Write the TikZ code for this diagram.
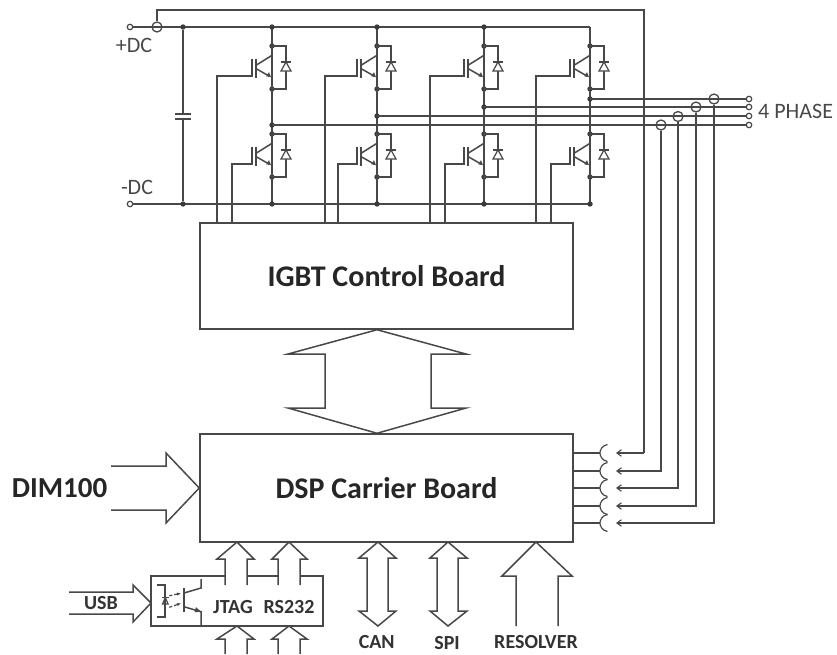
\documentclass[tikz,border=0pt]{standalone}
\usepackage{fontspec}
\setmainfont{Carlito}
\usetikzlibrary{arrows.meta}
\definecolor{ink}{HTML}{484848}
\tikzset{
  wire/.style={draw=ink,line width=1.5pt,line cap=butt,line join=miter},
  thin wire/.style={draw=ink,line width=1.2pt},
  outline/.style={draw=ink,line width=1.5pt,line join=miter},
  board/.style={draw=ink,line width=1.5pt,inner sep=0pt,minimum width=373pt,font=\bfseries\fontsize{30}{32}\selectfont,text=black!85,fill=none},
  junction/.style={circle,fill=ink!80!black,draw=none,inner sep=0pt,minimum size=5.4pt},
  bump/.style={circle,fill=ink,draw=none,inner sep=0pt,minimum size=3.6pt},
  terminal/.style={circle,draw=ink,line width=1.2pt,fill=white,inner sep=0pt,minimum size=5.5pt},
  sensor/.style={circle,draw=ink,line width=1.3pt,fill=none,inner sep=0pt,minimum size=10pt},
  lab/.style={font=\fontsize{22}{24}\selectfont,text=ink,inner sep=0pt},
  blab/.style={font=\bfseries\fontsize{20}{22}\selectfont,text=black!80,inner sep=0pt},
  feedtip/.style={-{Straight Barb[length=4.5pt,width=6.5pt,line width=1.1pt]}},
}
% #1 leg x, #2 collector-dot y, #3 gate-wire x, #4 name
\newcommand{\igbtcell}[4]{
  \coordinate (#4c) at (#1,#2);
  \coordinate (#4e) at (#1,#2+43);
  \node[junction] (#4cd) at (#4c) {};
  \node[junction] (#4ed) at (#4e) {};
  \coordinate (#4gate) at (#1-20,#2+30);
  \draw[wire] (#1-20,#2+13) -- (#4gate) -- (#3,#2+30) -- (#3,223);
  \draw[wire] (#1-16,#2+13) -- (#1-16,#2+32);
  \draw[wire] (#1-16,#2+19.3) -- (#1,#2+9.3);
  \draw[wire] (#1-16,#2+22.6) -- (#1-2.4,#2+30.3);
  \fill[ink] (#1-1,#2+31.2) -- (#1-5.8,#2+30.2) -- (#1-3,#2+26.2) -- cycle;
  \draw[wire] (#4c) -- (#1+14,#2) -- (#1+14,#2+43) -- (#4e);
  \draw[thin wire] (#1+9,#2+16) -- (#1+19,#2+16);
  \draw[thin wire,fill=white] (#1+14,#2+16) -- (#1+9,#2+25) -- (#1+19,#2+25) -- cycle;
}
\begin{document}
\begin{tikzpicture}[x=1pt,y=-1pt]
\useasboundingbox (0,0) rectangle (837,654);

% boards
\node[board,minimum height=106pt] (igbt) at (386.5,276) {IGBT Control Board};
\node[board,minimum height=108pt] (dsp) at (386.5,488) {DSP Carrier Board};

% DC bus
\node[terminal] (pdc) at (130,27) {};
\node[terminal] (ndc) at (130,204) {};
\coordinate (pdcend) at (590,27);
\coordinate (ndcend) at (590,204);
\draw[wire] (pdc) -- (pdcend);
\draw[wire] (ndc) -- (ndcend);
\node[lab] at (134,45) {+DC};
\node[lab] at (137,187) {-DC};

% capacitor
\node[junction] (captop) at (183,27) {};
\node[junction] (capbot) at (183,204) {};
\coordinate (capa) at (183,114);
\coordinate (capb) at (183,119);
\draw[wire] (captop) -- (capa);
\draw[wire] (capb) -- (capbot);
\draw[wire] (175,114) -- (191,114);
\draw[wire] (175,119) -- (191,119);

% legs
\foreach \lx/\ga/\gb/\nm/\ph in {272/217/232/a/125,377/325/338/b/116,484/430/445/c/107,590/536/551/d/99}{
  \igbtcell{\lx}{46}{\ga}{\nm u}
  \igbtcell{\lx}{134}{\gb}{\nm l}
  \draw[wire] (\lx,27) -- (\lx,204);
  \node[junction] at (\lx,\ph) {};
  \node[bump] at (\ga,204) {};
  \node[bump] at (\gb,204) {};
}
\foreach \lx in {272,377,484}{\node[junction] at (\lx,27) {};}
\foreach \lx in {272,377,484,590}{\node[junction] at (\lx,204) {};}

% phase terminals and lines
\node[terminal] (p1) at (749,99) {};
\node[terminal] (p2) at (749,107) {};
\node[terminal] (p3) at (749,116) {};
\node[terminal] (p4) at (749,125) {};
\draw[wire] (590,99) -- (p1);
\draw[wire] (484,107) -- (p2);
\draw[wire] (377,116) -- (p3);
\draw[wire] (272,125) -- (p4);
\node[lab,anchor=west] at (758,111.5) {4 PHASE};
\foreach \xx/\yy in {325/125,430/125,430/116,536/125,536/116,536/107,590/107,590/116,590/125,484/116,484/125,377/125,644/99,644/107,644/116,644/125,678/125,696/116,696/125,714/107,714/116,714/125}{
  \node[bump] at (\xx,\yy) {};
}

% current sensors
\node[sensor] (sdc) at (157,27) {};
\node[sensor] (s1) at (661,125) {};
\node[sensor] (s2) at (678,116.5) {};
\node[sensor] (s3) at (696,107) {};
\node[sensor] (s4) at (714,99) {};

% DSP sensor inputs: stub, cup, arrow tip
\foreach \yy/\nm in {453/a,471/b,488/c,506/d,523/e}{
  \coordinate (cup\nm) at (600,\yy);
  \coordinate (in\nm) at (616,\yy);
  \draw[wire] (dsp.east |- cup\nm) -- (cup\nm);
  \draw[thin wire] (607.5,\yy-8.5) .. controls (602,\yy-7.5) and (600,\yy-3) .. (600,\yy)
                   .. controls (600,\yy+3) and (602,\yy+7.5) .. (607.5,\yy+8.5);
}
% feedback wires
\coordinate (fa) at (644,10);
\draw[wire] (sdc.north) -- (157,10) -- (fa) -- (644,453);
\draw[wire,feedtip] (644,453) -- (ina);
\draw[wire,feedtip] (s1.south) -- (661,471) -- (inb);
\draw[wire,feedtip] (s2.south) -- (678,488) -- (inc);
\draw[wire,feedtip] (s3.south) -- (696,506) -- (ind);
\draw[wire,feedtip] (s4.south) -- (714,523) -- (ine);

% board link
\draw[outline] (igbt.south -| 377,0) -- (466,354) -- (431,354) -- (431,408) -- (466,408)
  -- (dsp.north -| 377,0) -- (288,408) -- (325,408) -- (325,354) -- (288,354) -- cycle;

% DIM100
\node[font=\bfseries\fontsize{29}{31}\selectfont,text=black!85,inner sep=0pt] (dim) at (59.5,488.5) {DIM100};
\draw[outline] (111,466) -- (166,466) -- (166,453) -- (dsp.west) -- (166,523) -- (166,510) -- (111,510);

% CAN, SPI, RESOLVER
\draw[outline] (378,542) -- (396,558) -- (388,558) -- (388,611) -- (396,611) -- (378,626)
  -- (359,611) -- (367,611) -- (367,558) -- (359,558) -- cycle;
\draw[outline] (448,542) -- (467,558) -- (458,558) -- (458,611) -- (467,611) -- (448,626)
  -- (430,611) -- (437,611) -- (437,558) -- (430,558) -- cycle;
\draw[outline] (516,626) -- (516,576) -- (502,576) -- (536,542) -- (572,576) -- (558,576) -- (558,626);
\node[blab] (can) at (376.7,641.5) {CAN};
\node[blab] (spi) at (447,643) {SPI};
\node[blab] (res) at (536,641.5) {RESOLVER};

% interface box
\coordinate (bl) at (151,626);
\coordinate (br) at (323,626);
\draw[wire] (225,576) -- (151,576) -- (bl) -- (br) -- (323,576) -- (300,576);
\draw[wire] (247,576) -- (278,576);
\node[blab] (jtag) at (233,606.5) {JTAG};
\node[blab] (rs) at (289,606.5) {RS232};
% upper arrows
\draw[outline] (225,585) -- (225,559) -- (217,559) -- (237,542) -- (254,559) -- (247,559) -- (247,585);
\draw[outline] (278,585) -- (278,559) -- (272,559) -- (289,542) -- (307,559) -- (300,559) -- (300,585);
% lower arrows
\draw[outline] (225,654) -- (225,639) -- (217,639) -- (237,626) -- (254,639) -- (247,639) -- (247,654);
\draw[outline] (278,654) -- (278,639) -- (272,639) -- (289,626) -- (307,639) -- (300,639) -- (300,654);
% USB
\draw[outline] (69,592) -- (133,592) -- (133,585) -- (151,603) -- (133,622) -- (133,614) -- (69,614);
\node[blab] (usb) at (101,603) {USB};
% optocoupler
\draw[thin wire] (157,585) -- (165,585) -- (165,617) -- (157,617);
\draw[thin wire] (162,597.5) -- (168.6,597.5);
\draw[thin wire] (165.3,597.5) -- (162.5,604) -- (168.1,604) -- cycle;
\draw[wire] (184,588) -- (184,612);
\draw[wire] (184,593) -- (201,588) -- (201,579);
\draw[wire] (184,606.7) -- (196,610.3);
\draw[wire] (201,626) -- (201,611.7) -- (196,610.3);
\fill[ink] (201,611.7) -- (194.5,612.2) -- (196,607.2) -- cycle;
\draw[thin wire,densely dashed,-{Latex[length=4pt,width=3.5pt]}] (169.3,595.7) -- (181,593.3);
\draw[thin wire,densely dashed,-{Latex[length=4pt,width=3.5pt]}] (169.3,607.3) -- (181,603.3);
\end{tikzpicture}
\end{document}
